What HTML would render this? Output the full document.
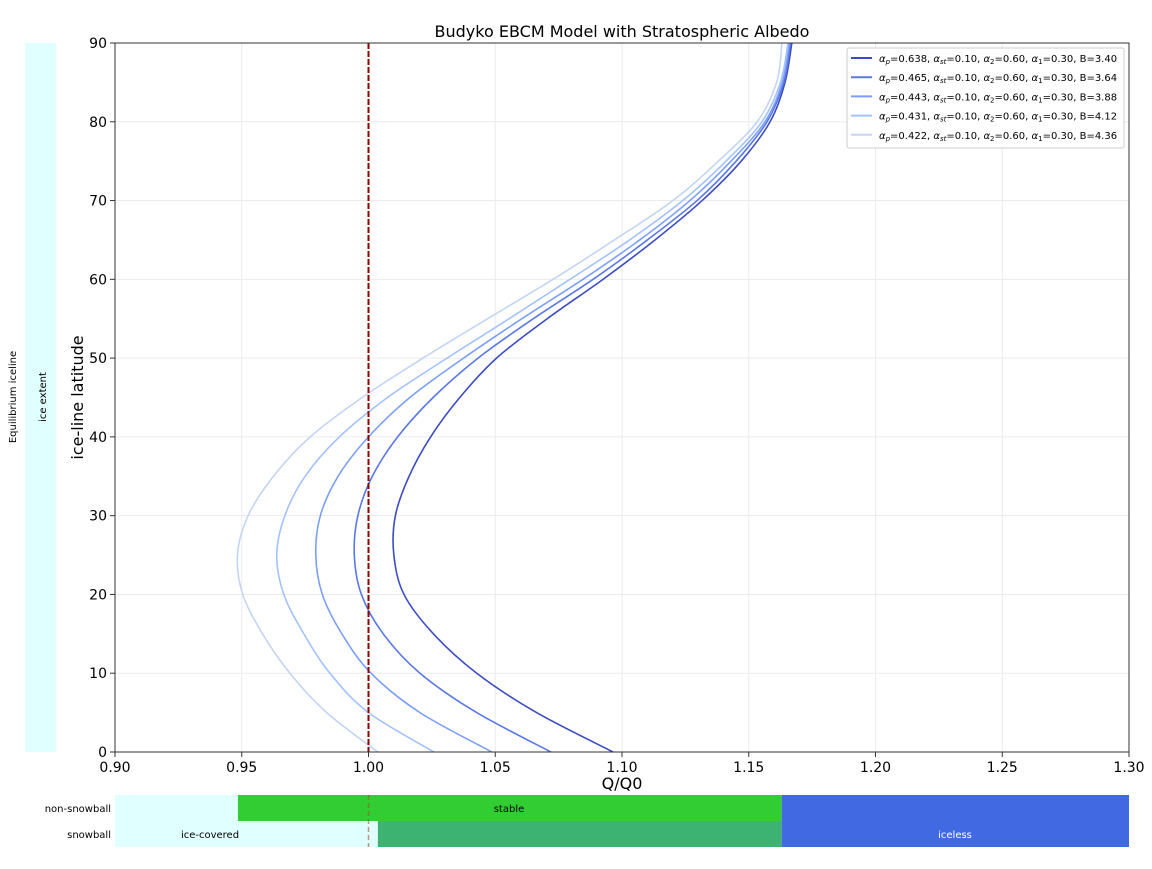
<!DOCTYPE html>
<html><head><meta charset="utf-8"><style>
body{margin:0;background:#fff;font-family:"Liberation Sans","DejaVu Sans",sans-serif}
svg text{font-family:"DejaVu Sans","Liberation Sans",sans-serif}
</style></head><body>
<svg id="c" width="1152" height="864" xmlns="http://www.w3.org/2000/svg"></svg>
<script>
const lats=[0,5,10,15,20,25,30,35,40,45,50,55,60,65,70,75,80,85,90];
const s1=[1.0965,1.0663,1.0427,1.0256,1.0140,1.0100,1.0106,1.0160,1.0245,1.0360,1.0505,1.0705,1.0925,1.1130,1.1316,1.1470,1.1584,1.1643,1.1670];
const s2=[1.0720,1.0427,1.0203,1.0058,0.9972,0.9944,0.9958,1.0015,1.0115,1.0255,1.0432,1.0650,1.0886,1.1100,1.1296,1.1450,1.1572,1.1638,1.1665];
const s3=[1.0487,1.0203,1.0010,0.9895,0.9818,0.9792,0.9810,0.9880,1.0000,1.0163,1.0375,1.0605,1.0846,1.1070,1.1268,1.1430,1.1564,1.1632,1.1660];
const s4=[1.0258,1.0000,0.9848,0.9745,0.9666,0.9638,0.9670,0.9750,0.9885,1.0075,1.0310,1.0555,1.0795,1.1030,1.1240,1.1410,1.1552,1.1625,1.1655];
const s5=[1.0037,0.9835,0.9690,0.9582,0.9504,0.9483,0.9525,0.9625,0.9770,0.9975,1.0215,1.0470,1.0728,1.0970,1.1201,1.1380,1.1533,1.1610,1.1631];
const alphaP=["0.638","0.465","0.443","0.431","0.422"];
const Bvals=["3.40","3.64","3.88","4.12","4.36"];
const xTicks=[0.90,0.95,1.00,1.05,1.10,1.15,1.20,1.25,1.30];
const yTicks=[0,10,20,30,40,50,60,70,80,90];
const eqQ=1.0;
const stableStart=0.9485, snowEnd=1.0037, icelessStart=1.163;

const NS="http://www.w3.org/2000/svg";
const svg=document.getElementById('c');
const L=115,R=1129,T=43,B=752;
const X=v=>L+(v-0.9)/0.4*(R-L);
const Y=v=>B-v/90*(B-T);
function el(tag,attrs,parent){const e=document.createElementNS(NS,tag);for(const k in attrs)e.setAttribute(k,attrs[k]);(parent||svg).appendChild(e);return e;}
function txt(s,attrs){const e=el('text',attrs);e.textContent=s;return e;}

let e=el('rect',{x:25,y:T,width:31,height:B-T,fill:'#e0ffff'});

e=txt('ice extent',{x:0,y:0,'font-size':10,'text-anchor':'middle',transform:'translate(46,397) rotate(-90)'});

e=txt('Equilibrium iceline',{x:0,y:0,'font-size':10,'text-anchor':'middle',transform:'translate(16,397) rotate(-90)'});


xTicks.forEach(t=>{const g=el('line',{x1:X(t),x2:X(t),y1:T,y2:B,stroke:'#ebebeb','stroke-width':1});
});
yTicks.forEach(t=>{const g=el('line',{x1:L,x2:R,y1:Y(t),y2:Y(t),stroke:'#ebebeb','stroke-width':1});
});

const series=[s1,s2,s3,s4,s5];
const colors=["#3b4cc0","#5a78e4","#7b9ff9","#a3c2fe","#c4d5f3"];
function smooth(pts){let d=`M${pts[0][0]},${pts[0][1]}`;for(let i=0;i<pts.length-1;i++){const p0=pts[Math.max(0,i-1)],p1=pts[i],p2=pts[i+1],p3=pts[Math.min(pts.length-1,i+2)];
const c1=[p1[0]+(p2[0]-p0[0])/6,p1[1]+(p2[1]-p0[1])/6],c2=[p2[0]-(p3[0]-p1[0])/6,p2[1]-(p3[1]-p1[1])/6];
d+=` C${c1[0]},${c1[1]} ${c2[0]},${c2[1]} ${p2[0]},${p2[1]}`;}return d;}
series.forEach((s,i)=>{const pts=s.map((v,j)=>[X(v),Y(lats[j])]);
const p=el('path',{d:smooth(pts),fill:'none',stroke:colors[i],'stroke-width':1.6});
});

e=el('line',{x1:X(eqQ),x2:X(eqQ),y1:T,y2:B,stroke:'#8b0000','stroke-width':2,'stroke-dasharray':'6,2'});


e=el('rect',{x:L,y:T,width:R-L,height:B-T,fill:'none',stroke:'#333','stroke-width':1});


xTicks.forEach(t=>{el('line',{x1:X(t),x2:X(t),y1:B,y2:B+5,stroke:'#333'});
const l=txt(t.toFixed(2),{x:X(t),y:B+20,'font-size':14,'text-anchor':'middle',fill:'#000'});
});
yTicks.forEach(t=>{el('line',{x1:L-5,x2:L,y1:Y(t),y2:Y(t),stroke:'#333'});
const l=txt(String(t),{x:L-8,y:Y(t)+5,'font-size':14,'text-anchor':'end',fill:'#000'});
});

e=txt('Q/Q0',{x:(L+R)/2,y:789,'font-size':16,'text-anchor':'middle'});

e=txt('ice-line latitude',{x:0,y:0,'font-size':16,'text-anchor':'middle',transform:`translate(83,${(T+B)/2}) rotate(-90)`});

e=txt('Budyko EBCM Model with Stratospheric Albedo',{x:(L+R)/2,y:37,'font-size':16,'text-anchor':'middle'});


const lg=el('g',{});
el('rect',{x:847,y:48,width:277,height:100,fill:'#fff',stroke:'#ccc',rx:2},lg);
series.forEach((s,i)=>{const yy=58+i*19.2;
el('line',{x1:851,x2:872,y1:yy,y2:yy,stroke:colors[i],'stroke-width':2},lg);
const t=el('text',{x:879,y:yy+4,'font-size':10},lg);

t.innerHTML=`<tspan font-style="italic">α</tspan><tspan font-size="7" dy="2" font-style="italic">p</tspan><tspan dy="-2">=${alphaP[i]}, </tspan><tspan font-style="italic">α</tspan><tspan font-size="7" dy="2" font-style="italic">st</tspan><tspan dy="-2">=0.10, </tspan><tspan font-style="italic">α</tspan><tspan font-size="7" dy="2">2</tspan><tspan dy="-2">=0.60, </tspan><tspan font-style="italic">α</tspan><tspan font-size="7" dy="2">1</tspan><tspan dy="-2">=0.30, B=${Bvals[i]}</tspan>`;});

const r1=795,r2=821,h=26;
function bar(x0,x1,y,fill,name){const b=el('rect',{x:X(x0),y:y,width:X(x1)-X(x0),height:h,fill:fill});}
bar(0.9,stableStart,r1,'#e0ffff','nonsnowball-ice-band');
bar(stableStart,icelessStart,r1,'#32cd32','stable-band');
bar(0.9,snowEnd,r2,'#e0ffff','ice-covered-band');
bar(snowEnd,icelessStart,r2,'#3cb371','snowball-stable-band');
bar(icelessStart,1.3,r1,'#4169e1','iceless-band-top');
bar(icelessStart,1.3,r2,'#4169e1','iceless-band-bottom');
e=el('line',{x1:X(eqQ),x2:X(eqQ),y1:r1,y2:r2+h,stroke:'#a0522d','stroke-opacity':0.6,'stroke-width':1.5,'stroke-dasharray':'5,3'});

[['stable',509,r1+17,'#000','stable-label'],['ice-covered',210,r2+17,'#000','ice-covered-label'],['iceless',955,r2+17,'#fff','iceless-label']].forEach(a=>{
const t=txt(a[0],{x:a[1],y:a[2],'font-size':10,'text-anchor':'middle',fill:a[3]});});
e=txt('non-snowball',{x:111,y:r1+17,'font-size':10,'text-anchor':'end'});

e=txt('snowball',{x:111,y:r2+17,'font-size':10,'text-anchor':'end'});

</script>
</body></html>
